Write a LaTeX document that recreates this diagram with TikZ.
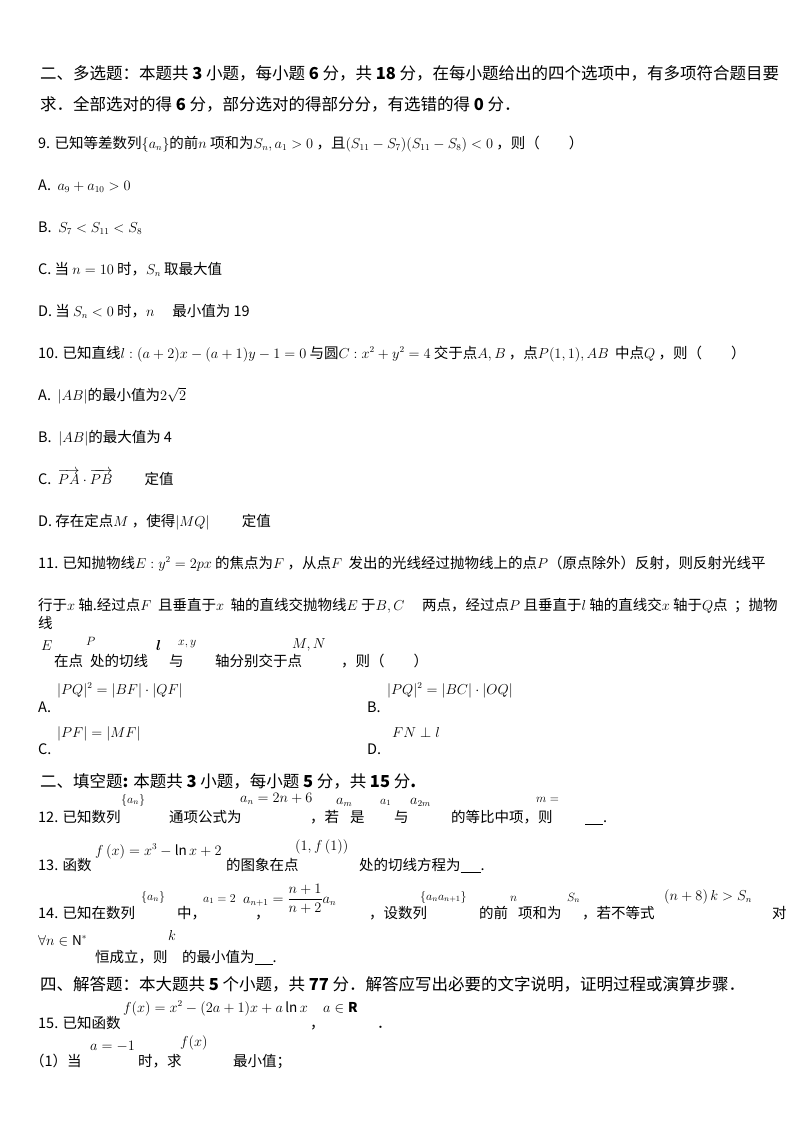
\documentclass[tikz,border=0pt]{standalone}
\usepackage{amsmath,amssymb}
\usepackage{fontspec}
\setmainfont{Noto Sans CJK SC}
\DeclareMathSizes{14.5}{13.5}{9.5}{7}
\DeclareMathSizes{11}{11.5}{8}{6}
\DeclareMathSizes{16.5}{14}{10}{7}
\begin{document}
\begin{tikzpicture}[x=1pt,y=-1pt,t/.style={anchor=base west,inner sep=0pt,font=\fontsize{14.5}{16}\selectfont},s/.style={t,font=\fontsize{11}{13}\selectfont},h/.style={t,font=\fontsize{16.5}{18}\selectfont}]
\useasboundingbox (0,0) rectangle (800,1132);
\node[h] (h1) at (40,80) {二、多选题：本题共 \textbf{3} 小题，每小题 \textbf{6} 分，共 \textbf{18} 分，在每小题给出的四个选项中，有多项符合题目要};
\node[h] (h2) at (40,110) {求．全部选对的得 \textbf{6} 分，部分选对的得部分分，有选错的得 \textbf{0} 分．};
\node[t] (q9) at (38,148) {9. 已知等差数列$\{a_n\}$的前$n$ 项和为$S_n,a_1>0$ ，且$(S_{11}-S_7)(S_{11}-S_8)<0$ ，则（\qquad）};
\node[t] (q9a) at (38,190) {A.\ \ $a_9+a_{10}>0$};
\node[t] (q9b) at (38,232) {B.\ \ $S_7<S_{11}<S_8$};
\node[t] (q9c) at (38,274) {C. 当 $n=10$ 时，$S_n$ 取最大值};
\node[t] (q9d) at (38,316) {D. 当 $S_n<0$ 时，$n$ \quad 最小值为 19};
\node[t] (q10) at (38,358) {10. 已知直线$l:(a+2)x-(a+1)y-1=0$ 与圆$C:x^2+y^2=4$ 交于点$A,B$ ，点$P(1,1),AB$ \ 中点$Q$ ，则（\qquad）};
\node[t] (q10a) at (38,400) {A.\ \ $|AB|$的最小值为$2\sqrt2$};
\node[t] (q10b) at (38,442) {B.\ \ $|AB|$的最大值为 4};
\node[t] (q10c) at (38,484) {C.\ \ $\overrightarrow{PA}\cdot\overrightarrow{PB}$ \qquad 定值};
\node[t] (q10d) at (38,526) {D. 存在定点$M$ ，使得$|MQ|$ \qquad 定值};
\node[t] (q11) at (38,568) {11. 已知抛物线$E:y^2=2px$ 的焦点为$F$ ，从点$F$ \ 发出的光线经过抛物线上的点$P$（原点除外）反射，则反射光线平};
\node[t] (q11b) at (38,610) {行于$x$ 轴.经过点$F$ \ 且垂直于$x$ \ 轴的直线交抛物线$E$ 于$B,C$ \quad 两点，经过点$P$ 且垂直于$l$ 轴的直线交$x$ 轴于$Q$点 \ ；抛物};
\node[t] (q11c) at (38,628) {线};
\node[t] (e1) at (41,650) {$E$};
\node[s] (e2) at (86,645) {$P$};
\node[t] (e3) at (156,650) {$\boldsymbol{l}$};
\node[s] (e4) at (178,645) {$x,y$};
\node[t] (e5) at (292,648) {$M,N$};
\node[t] (q11d) at (54,666) {在点};
\node[t] (q11e) at (90,666) {处的切线};
\node[t] (q11f) at (169,666) {与};
\node[t] (q11g) at (215,666) {轴分别交于点};
\node[t] (q11h) at (341,666) {，则（\qquad）};
\node[t] (o11a) at (57,694) {$|PQ|^2=|BF|\cdot|QF|$};
\node[t] (o11b) at (387,694) {$|PQ|^2=|BC|\cdot|OQ|$};
\node[t] (l11a) at (38,712) {A.};
\node[t] (l11b) at (367,712) {B.};
\node[t] (o11c) at (57,737) {$|PF|=|MF|$};
\node[t] (o11d) at (392,737) {$FN\perp l$};
\node[t] (l11c) at (38,754) {C.};
\node[t] (l11d) at (367,754) {D.};
\node[h] (h3) at (40,787) {二、填空题\textbf{:} 本题共 \textbf{3} 小题，每小题 \textbf{5} 分，共 \textbf{15} 分\textbf{.}};
\node[s] (m12a) at (121,803) {$\{a_n\}$};
\node[t] (m12b) at (240,802) {$a_n=2n+6$};
\node[t] (m12c) at (336,804) {$a_m$};
\node[s] (m12d) at (380,804) {$a_1$};
\node[t] (m12e) at (410,804) {$a_{2m}$};
\node[s] (m12f) at (536,802) {$m=$};
\node[t] (q12) at (38,822) {12. 已知数列};
\node[t] (q12b) at (169,822) {通项公式为};
\node[t] (q12c) at (310,822) {，若};
\node[t] (q12c2) at (350,822) {是};
\node[t] (q12c3) at (394,822) {与};
\node[t] (q12c4) at (451,822) {的等比中项，则};
\node[t] (q12d) at (585,822) {\underline{\hspace{18pt}}.};
\node[t] (m13a) at (95,855) {$f\left(x\right)=x^3-\ln x+2$};
\node[t] (m13b) at (295,850) {$\left(1,f\left(1\right)\right)$};
\node[t] (q13) at (38,870) {13. 函数};
\node[t] (q13b) at (226,870) {的图象在点};
\node[t] (q13c) at (359,870) {处的切线方程为\underline{\hspace{20pt}}.};
\node[s] (m14a) at (141,900) {$\left\{a_n\right\}$};
\node[s] (m14b) at (203,902) {$a_1=2$};
\node[t] (m14c) at (243,903) {$a_{n+1}=\dfrac{n+1}{n+2}a_n$};
\node[s] (m14d) at (420,900) {$\left\{a_na_{n+1}\right\}$};
\node[s] (m14e) at (510,901) {$n$};
\node[s] (m14f) at (567,901) {$S_n$};
\node[t] (m14g) at (664,900) {$\left(n+8\right)k>S_n$};
\node[t] (q14) at (38,918) {14. 已知在数列};
\node[t] (q14b) at (177,918) {中，};
\node[t] (q14c) at (255,918) {，};
\node[t] (q14d) at (369,918) {，设数列};
\node[t] (q14e) at (479,918) {的前};
\node[t] (q14e2) at (518,918) {项和为};
\node[t] (q14f) at (582,918) {，若不等式};
\node[t] (q14g) at (772,918) {对};
\node[t] (m14h) at (38,945) {$\forall n\in\mathrm{N}^*$};
\node[t] (m14i) at (168,940) {$k$};
\node[t] (q14h) at (95,962) {恒成立，则};
\node[t] (q14i) at (182,962) {的最小值为\underline{\hspace{18pt}}.};
\node[h] (h4) at (40,990) {四、解答题：本大题共 \textbf{5} 个小题，共 \textbf{77} 分．解答应写出必要的文字说明，证明过程或演算步骤．};
\node[t] (m15a) at (123,1012) {$f(x)=x^2-(2a+1)x+a\ln x$};
\node[t] (m15b) at (323,1012) {$a\in\mathbf{R}$};
\node[t] (q15) at (38,1028) {15. 已知函数};
\node[t] (q15b) at (310,1028) {，};
\node[t] (q15c) at (377,1028) {．};
\node[t] (m15c) at (90,1050) {$a=-1$};
\node[t] (m15d) at (180,1046) {$f(x)$};
\node[t] (q15d) at (30,1066) {（1）当};
\node[t] (q15e) at (138,1066) {时，求};
\node[t] (q15f) at (233,1066) {最小值；};
\end{tikzpicture}
\end{document}
